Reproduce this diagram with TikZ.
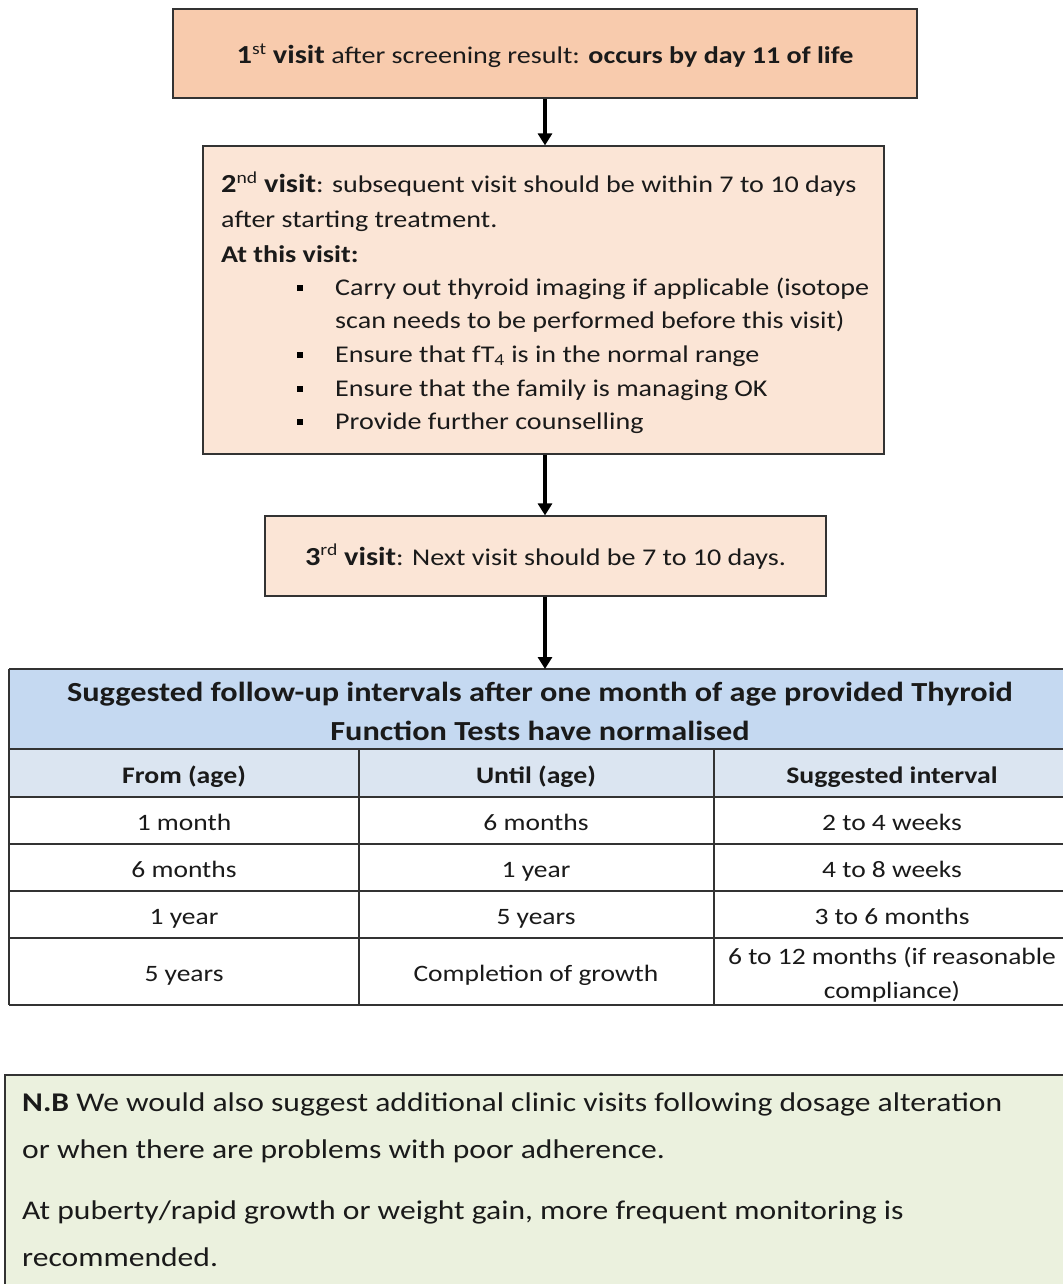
\documentclass[tikz,border=0pt]{standalone}
\usepackage{fontspec}
\setmainfont{Carlito}[FakeStretch=1.17]
\usetikzlibrary{arrows.meta}
\definecolor{visitA}{HTML}{F8CBAD}
\definecolor{visitB}{HTML}{FBE5D6}
\definecolor{titleblue}{HTML}{C5D9F1}
\definecolor{headblue}{HTML}{DBE5F1}
\definecolor{notegreen}{HTML}{EBF1DE}
\definecolor{edge}{HTML}{333333}
\definecolor{ink}{HTML}{1A1A1A}
\newcommand{\visitword}[1]{\textbf{\fontsize{26}{30}\selectfont #1}}
\tikzset{
  visitbox/.style={draw=edge, line width=1.2pt, inner sep=0pt},
  flow/.style={line width=3.5pt, -{Triangle[length=12pt,width=14pt]}},
  boxtext/.style={inner sep=0pt, text=ink, font=\fontsize{24}{28}\selectfont},
  tabtext/.style={inner sep=0pt, text=ink, anchor=base, font=\fontsize{23.5}{28}\selectfont},
  tabhead/.style={tabtext, font=\bfseries\fontsize{23.7}{28}\selectfont},
  tabtitle/.style={tabtext, font=\bfseries\fontsize{27.6}{32}\selectfont},
  notetext/.style={inner sep=0pt, text=ink, anchor=base west, font=\fontsize{27}{32}\selectfont},
  rule/.style={draw=edge, line width=1.5pt},
  bullet/.style={fill=black, minimum size=6pt, inner sep=0pt},
}
\begin{document}
\begin{tikzpicture}[x=1pt,y=-1pt]
\useasboundingbox (0,0) rectangle (1062,1284);
\fill[white] (0,0) rectangle (1062,1284);

% visit boxes
\node[visitbox, fill=visitA, minimum width=744pt, minimum height=89pt] (v1) at (545,53.5) {};
\node[visitbox, fill=visitB, minimum width=681pt, minimum height=308pt] (v2) at (543.5,300) {};
\node[visitbox, fill=visitB, minimum width=561pt, minimum height=80pt] (v3) at (545.5,556) {};

% first visit
\node[boxtext, anchor=base] (t1) at (545,64)
  {\visitword{1}\textsuperscript{st} \visitword{visit} after screening result: \textbf{occurs by day 11 of life}};

% second visit
\node[boxtext, anchor=base west] (t2a) at (221,193)
  {\visitword{2}\textsuperscript{nd} \visitword{visit}: subsequent visit should be within 7 to 10 days};
\node[boxtext, anchor=base west] (t2b) at (221,227) {after starting treatment.};
\node[boxtext, anchor=base west] (t2c) at (221,262) {\textbf{At this visit:}};
\node[boxtext, anchor=base west] (b1) at (335,295) {Carry out thyroid imaging if applicable (isotope};
\node[boxtext, anchor=base west] (b1b) at (335,328) {scan needs to be performed before this visit)};
\node[boxtext, anchor=base west] (b2) at (335,362) {Ensure that fT\textsubscript{4} is in the normal range};
\node[boxtext, anchor=base west] (b3) at (335,396) {Ensure that the family is managing OK};
\node[boxtext, anchor=base west] (b4) at (335,429) {Provide further counselling};
\foreach \y/\n in {288/d1,355/d2,389/d3,422/d4}
  \node[bullet] (\n) at (300,\y) {};

% third visit
\node[boxtext, anchor=base] (t3) at (545.5,565)
  {\visitword{3}\textsuperscript{rd} \visitword{visit}: Next visit should be 7 to 10 days.};

% follow-up table
\fill[titleblue] (9,669) rectangle (1070,749);
\fill[headblue] (9,749) rectangle (1070,797);
\coordinate (tab) at (545,669);
\foreach \y in {669,749,797,844,891,938,1005}
  \draw[rule] (9,\y) -- (1070,\y);
\draw[rule] (9,669) -- (9,1005);
\draw[rule] (359,749) -- (359,1005);
\draw[rule] (714,749) -- (714,1005);

\node[tabtitle] (h1) at (540,701)
  {Suggested follow-up intervals after one month of age provided Thyroid};
\node[tabtitle] (h2) at (540,740)
  {Function Tests have normalised};
\node[tabhead] (c1) at (184,783) {From (age)};
\node[tabhead] (c2) at (536,783) {Until (age)};
\node[tabhead] (c3) at (892,783) {Suggested interval};
\node[tabtext] (r1a) at (184,830) {1 month};
\node[tabtext] (r1b) at (536,830) {6 months};
\node[tabtext] (r1c) at (892,830) {2 to 4 weeks};
\node[tabtext] (r2a) at (184,877) {6 months};
\node[tabtext] (r2b) at (536,877) {1 year};
\node[tabtext] (r2c) at (892,877) {4 to 8 weeks};
\node[tabtext] (r3a) at (184,924) {1 year};
\node[tabtext] (r3b) at (536,924) {5 years};
\node[tabtext] (r3c) at (892,924) {3 to 6 months};
\node[tabtext] (r4a) at (184,981) {5 years};
\node[tabtext] (r4b) at (536,981) {Completion of growth};
\node[tabtext] (r4c) at (892,964) {6 to 12 months (if reasonable};
\node[tabtext] (r4d) at (892,998) {compliance)};

% connectors
\draw[flow] (v1.south) -- (v1.south |- v2.north);
\draw[flow] (v2.south -| v1.south) -- (v1.south |- v3.north);
\draw[flow] (v1.south |- v3.south) -- (tab);

% note
\node[draw=edge, line width=1.5pt, fill=notegreen, minimum width=1065pt, minimum height=215pt, inner sep=0pt] (nb) at (537.5,1182.5) {};
\node[notetext] (n1) at (22,1111) {\textbf{N.B} We would also suggest additional clinic visits following dosage alteration};
\node[notetext] (n2) at (22,1158) {or when there are problems with poor adherence.};
\node[notetext] (n3) at (22,1219) {At puberty/rapid growth or weight gain, more frequent monitoring is};
\node[notetext] (n4) at (22,1266) {recommended.};
\end{tikzpicture}
\end{document}
